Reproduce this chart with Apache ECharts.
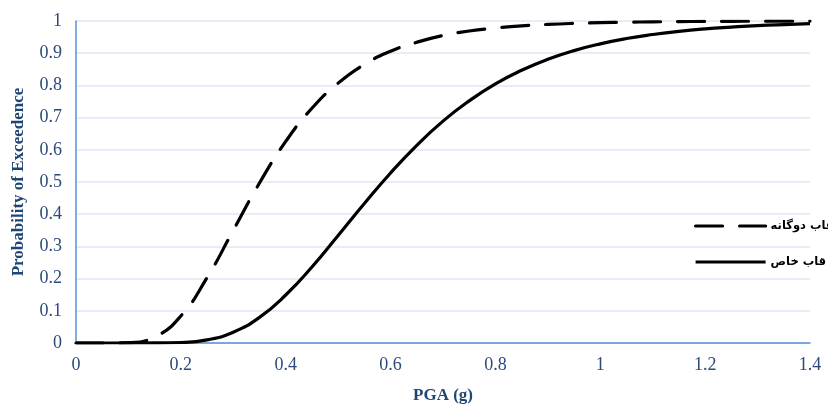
<!DOCTYPE html>
<html lang="fa">
<head>
    <meta charset="UTF-8">
    <title>fragility</title>
    <script src="https://cdn.jsdelivr.net/npm/echarts@6/dist/echarts.min.js"></script>
    <style>
        html, body { margin: 0; padding: 0; background: #fff; }
        #main { width: 828px; height: 405px; }
    </style>
</head>
<body>
<div id="main"></div>
<script>
    // PGA (g) values
    var pga = [0, 0.05, 0.1, 0.15, 0.2, 0.25, 0.3, 0.35, 0.4, 0.45, 0.5, 0.55, 0.6, 0.65, 0.7,
        0.75, 0.8, 0.85, 0.9, 0.95, 1, 1.05, 1.1, 1.15, 1.2, 1.25, 1.3, 1.35, 1.4];

    // قاب دوگانه (dashed)
    var dualFrame = [0, 0, 0.001, 0.019, 0.084, 0.203, 0.35, 0.497, 0.626, 0.729, 0.807, 0.865, 0.906, 0.934, 0.955,
        0.969, 0.978, 0.985, 0.9895, 0.9927, 0.9949, 0.9964, 0.9974, 0.9982, 0.9987, 0.9991, 0.9993, 0.9995, 0.9997];

    // قاب خاص (solid)
    var specialFrame = [0, 0, 0, 0.0001, 0.0016, 0.0099, 0.0336, 0.0797, 0.149, 0.236, 0.334, 0.433, 0.528, 0.614, 0.689,
        0.752, 0.805, 0.847, 0.881, 0.908, 0.929, 0.9455, 0.958, 0.968, 0.9755, 0.981, 0.9857, 0.989, 0.9916];

    var seriesNames = ['قاب دوگانه', 'قاب خاص'];

    function pairs(ys) {
        var res = [];
        for (var i = 0; i < pga.length; i++) {
            res.push([pga[i], ys[i]]);
        }
        return res;
    }

    var axisBlue = '#5b8fd6';
    var labelBlue = '#2c4a7c';
    var nameBlue = '#1f4673';

    var myChart = echarts.init(document.getElementById('main'));

    var option = {
        backgroundColor: '#fff',
        animation: false,
        grid: { left: 76, right: 18, top: 21, bottom: 62, outerBoundsMode: 'none' },
        legend: {
            left: 689,
            top: 215,
            orient: 'vertical',
            itemWidth: 70,
            itemHeight: 14,
            itemGap: 24,
            itemStyle: { opacity: 0 },
            lineStyle: { width: 3.2 },
            textStyle: {
                fontFamily: 'DejaVu Sans',
                fontWeight: 'bold',
                fontSize: 11.5,
                color: '#000'
            },
            data: seriesNames
        },
        xAxis: {
            type: 'value',
            min: 0,
            max: 1.4,
            interval: 0.2,
            name: 'PGA (g)',
            nameLocation: 'middle',
            nameGap: 44,
            nameTextStyle: {
                fontFamily: 'Liberation Serif',
                fontWeight: 'bold',
                fontSize: 17,
                color: nameBlue
            },
            axisLine: { show: true, lineStyle: { color: axisBlue, width: 1.5 } },
            axisTick: { show: false },
            splitLine: { show: false },
            axisLabel: {
                margin: 13,
                fontFamily: 'Liberation Serif',
                fontSize: 18,
                color: labelBlue
            }
        },
        yAxis: {
            type: 'value',
            min: 0,
            max: 1,
            interval: 0.1,
            name: 'Probability of Exceedence',
            nameLocation: 'middle',
            nameRotate: 90,
            nameGap: 49,
            nameTextStyle: {
                fontFamily: 'Liberation Serif',
                fontWeight: 'bold',
                fontSize: 17,
                color: nameBlue
            },
            axisLine: { show: true, lineStyle: { color: axisBlue, width: 1.5 } },
            axisTick: { show: false },
            splitLine: { show: true, lineStyle: { color: '#dce9f3', width: 1.5 } },
            axisLabel: {
                margin: 14,
                fontFamily: 'Liberation Serif',
                fontSize: 18,
                color: labelBlue
            }
        },
        series: [
            {
                name: seriesNames[0],
                type: 'line',
                smooth: true,
                showSymbol: false,
                symbol: 'none',
                data: pairs(dualFrame),
                lineStyle: { color: '#000', width: 3.2, type: [27, 17], cap: 'round' },
                itemStyle: { color: '#000' }
            },
            {
                name: seriesNames[1],
                type: 'line',
                smooth: true,
                showSymbol: false,
                symbol: 'none',
                data: pairs(specialFrame),
                lineStyle: { color: '#000', width: 3.2 },
                itemStyle: { color: '#000' }
            }
        ]
    };

    myChart.setOption(option);
</script>
</body>
</html>
